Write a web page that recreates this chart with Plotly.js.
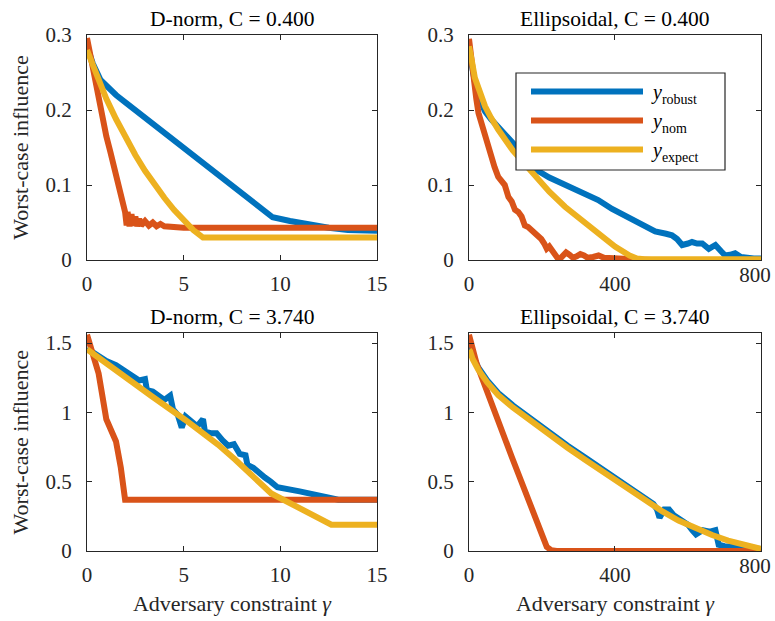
<!DOCTYPE html>
<html><head><meta charset="utf-8">
<script src="https://cdn.plot.ly/plotly-3.0.1.min.js"></script>
<style>
html,body{margin:0;padding:0;background:#fff}
#chart{width:775px;height:621px}
</style>
</head><body><div id="chart"></div>
<script>
// ---- labels ----
const seriesNames = ['\u00a0<i>y</i><sub>robust</sub>', '\u00a0<i>y</i><sub>nom</sub>', '\u00a0<i>y</i><sub>expect</sub>'];
const panelTitles = ['D-norm, C = 0.400', 'Ellipsoidal, C = 0.400', 'D-norm, C = 3.740', 'Ellipsoidal, C = 3.740'];
const xTitle = 'Adversary constraint <i>γ</i>';
const yTitle = 'Worst-case influence';
const dnormTicks = [0, 5, 10, 15];
const dnormTickText = ['0', '5', '10', '15'];
const ellipTicks = [0, 400, 800];
const ellipTickText = ['0', '400', ''];
const ellipEndTick = [800];
const ellipEndTickText = ['800'];
const topYTicks = [0, 0.1, 0.2, 0.3];
const topYTickText = ['0', '0.1', '0.2', '0.3'];
const bottomYTicks = [0, 0.5, 1, 1.5];
const bottomYTickText = ['0', '0.5', '1', '1.5'];

// ---- D-norm, C = 0.400 ----
const tlRobustX = [0, 0.3, 0.7, 1.2, 1.5, 2, 3, 4, 5, 6, 7, 8, 9, 9.6, 10.5, 11.5, 12.5, 13.5, 15];
const tlRobustY = [0.285, 0.262, 0.24, 0.226, 0.22, 0.21, 0.19, 0.17, 0.149, 0.129, 0.109, 0.089, 0.069, 0.057, 0.052, 0.047, 0.043, 0.04, 0.039];
const tlNomX = [0, 0.2, 0.41, 0.6, 0.84, 1.0, 1.2, 1.36, 1.5, 1.71, 1.85, 1.97, 2.05, 2.1, 2.2, 2.3, 2.4, 2.5, 2.6, 2.7, 2.8, 3.0, 3.2, 3.4, 3.6, 3.8, 4.0, 4.5, 5, 15];
const tlNomY = [0.296, 0.27, 0.24, 0.21, 0.182, 0.165, 0.145, 0.129, 0.118, 0.098, 0.08, 0.064, 0.046, 0.064, 0.045, 0.061, 0.046, 0.058, 0.045, 0.055, 0.046, 0.052, 0.046, 0.05, 0.045, 0.048, 0.045, 0.044, 0.043, 0.043];
const tlExpX = [0, 0.5, 1, 1.5, 2, 2.5, 3, 3.5, 4, 4.5, 5, 5.5, 6, 15];
const tlExpY = [0.28, 0.245, 0.215, 0.188, 0.163, 0.14, 0.119, 0.1, 0.083, 0.067, 0.053, 0.04, 0.03, 0.03];

// ---- Ellipsoidal, C = 0.400 ----
const trRobustX = [0, 8, 16, 26, 44, 60, 80, 100, 126, 150, 185, 220, 263, 310, 354, 392, 414, 450, 483, 510, 540, 556, 570, 584, 600, 611, 625, 639, 657, 675, 690, 702, 715, 729, 745, 757, 780, 800];
const trRobustY = [0.28, 0.255, 0.238, 0.218, 0.198, 0.188, 0.178, 0.167, 0.153, 0.14, 0.12, 0.11, 0.1, 0.09, 0.08, 0.068, 0.062, 0.053, 0.045, 0.038, 0.035, 0.033, 0.028, 0.02, 0.022, 0.024, 0.022, 0.022, 0.015, 0.02, 0.012, 0.006, 0.007, 0.009, 0.004, 0.003, 0.002, 0.002];
const trNomX = [0, 5, 12, 20, 26, 35, 44, 53, 62, 70, 80, 90, 98, 108, 117, 126, 135, 144, 153, 162, 172, 180, 190, 198, 206, 213, 220, 228, 235, 242, 250, 258, 266, 275, 285, 295, 305, 315, 325, 340, 355, 370, 390, 420, 450, 500, 800];
const trNomY = [0.295, 0.27, 0.24, 0.215, 0.196, 0.18, 0.164, 0.15, 0.138, 0.124, 0.111, 0.103, 0.1, 0.084, 0.078, 0.067, 0.064, 0.058, 0.046, 0.044, 0.04, 0.036, 0.033, 0.028, 0.022, 0.015, 0.018, 0.012, 0.008, 0.003, 0.002, 0.006, 0.01, 0.007, 0.003, 0.005, 0.008, 0.006, 0.003, 0.004, 0.006, 0.003, 0.002, 0.002, 0.001, 0, 0];
const trExpX = [0, 3, 8, 16, 30, 44, 60, 80, 120, 172, 220, 263, 310, 354, 400, 440, 460, 480, 800];
const trExpY = [0.285, 0.28, 0.265, 0.243, 0.222, 0.205, 0.19, 0.174, 0.146, 0.116, 0.091, 0.071, 0.052, 0.035, 0.018, 0.006, 0.002, 0.001, 0.001];

// ---- D-norm, C = 3.740 ----
const blRobustX = [0, 0.5, 1.0, 1.5, 2.0, 2.3, 2.7, 3.0, 3.1, 3.4, 3.7, 4.0, 4.3, 4.45, 4.7, 4.9, 5.1, 5.4, 5.7, 6.0, 6.1, 6.4, 6.7, 7.0, 7.3, 7.6, 7.9, 8.2, 8.3, 8.6, 8.9, 9.2, 9.5, 9.85, 11, 12.5, 13, 15];
const blRobustY = [1.46, 1.41, 1.37, 1.34, 1.29, 1.27, 1.23, 1.24, 1.16, 1.15, 1.12, 1.09, 1.12, 1.02, 0.98, 0.89, 0.97, 0.94, 0.9, 0.95, 0.86, 0.85, 0.85, 0.8, 0.76, 0.77, 0.7, 0.69, 0.62, 0.6, 0.56, 0.53, 0.5, 0.46, 0.43, 0.39, 0.37, 0.37];
const blNomX = [0, 0.6, 1.0, 1.5, 1.75, 1.97, 15];
const blNomY = [1.56, 1.28, 0.95, 0.79, 0.6, 0.37, 0.37];
const blExpX = [0, 1.62, 3.35, 5.07, 6.79, 7.66, 9.53, 12.64, 15];
const blExpY = [1.455, 1.285, 1.116, 0.947, 0.766, 0.66, 0.415, 0.19, 0.19];

// ---- Ellipsoidal, C = 3.740 ----
const brRobustX = [0, 3, 10, 25, 50, 80, 120, 170, 220, 270, 320, 370, 414, 450, 483, 505, 515, 522, 535, 548, 560, 580, 600, 612, 622, 640, 660, 675, 684, 700, 740, 770, 800];
const brRobustY = [1.47, 1.455, 1.4, 1.325, 1.23, 1.14, 1.05, 0.95, 0.855, 0.76, 0.67, 0.58, 0.5, 0.435, 0.375, 0.34, 0.3, 0.24, 0.3, 0.3, 0.26, 0.23, 0.19, 0.15, 0.12, 0.15, 0.14, 0.15, 0.045, 0.035, 0.03, 0.025, 0.015];
const brNomX = [0, 8, 21, 117, 213, 225, 240, 800];
const brNomY = [1.56, 1.47, 1.35, 0.68, 0.03, 0.006, 0, 0];
const brExpX = [0, 3, 10, 25, 50, 80, 120, 170, 220, 270, 320, 370, 414, 450, 483, 530, 574, 620, 666, 710, 757, 800];
const brExpY = [1.45, 1.44, 1.385, 1.31, 1.215, 1.125, 1.035, 0.935, 0.84, 0.745, 0.655, 0.565, 0.485, 0.42, 0.36, 0.285, 0.22, 0.165, 0.115, 0.075, 0.042, 0.015];

const colors = ['#0072BD', '#D95319', '#EDB120'];
const FONT = 'Liberation Serif';
const INK = '#262626';

const panels = [
  {xa: 'x', ya: 'y', data: [[tlRobustX, tlRobustY], [tlNomX, tlNomY], [tlExpX, tlExpY]]},
  {xa: 'x2', ya: 'y2', data: [[trRobustX, trRobustY], [trNomX, trNomY], [trExpX, trExpY]]},
  {xa: 'x3', ya: 'y3', data: [[blRobustX, blRobustY], [blNomX, blNomY], [blExpX, blExpY]]},
  {xa: 'x4', ya: 'y4', data: [[brRobustX, brRobustY], [brNomX, brNomY], [brExpX, brExpY]]}
];

const traces = [];
panels.forEach((p, pi) => {
  p.data.forEach((d, si) => {
    traces.push({
      x: d[0], y: d[1], xaxis: p.xa, yaxis: p.ya, type: 'scatter', mode: 'lines',
      name: seriesNames[si],
      showlegend: pi === 1,
      line: {color: colors[si], width: 6, shape: 'linear'}
    });
  });
});
// empty carriers for the end-tick label axes of the ellipsoidal panels
traces.push({x: [], y: [], xaxis: 'x5', yaxis: 'y2', type: 'scatter', mode: 'lines', showlegend: false, hoverinfo: 'skip'});
traces.push({x: [], y: [], xaxis: 'x6', yaxis: 'y4', type: 'scatter', mode: 'lines', showlegend: false, hoverinfo: 'skip'});

function baseAxis(domain, anchor, range, ticks, text) {
  return {
    domain: domain, anchor: anchor, range: range, tickvals: ticks, ticktext: text,
    showline: true, linecolor: INK, linewidth: 1, mirror: 'ticks', ticks: 'inside', ticklen: 5, tickcolor: INK,
    showgrid: false, zeroline: false, tickfont: {family: FONT, size: 21, color: INK},
    ticklabeloverflow: 'allow'
  };
}
function xAxis(domain, anchor, range, ticks, text, withTitle) {
  const a = baseAxis(domain, anchor, range, ticks, text);
  a.ticklabelstandoff = 5;
  if (withTitle) a.title = {text: xTitle, font: {family: FONT, size: 22, color: INK}, standoff: 9};
  return a;
}
function yAxis(domain, anchor, range, ticks, text, withTitle) {
  const a = baseAxis(domain, anchor, range, ticks, text);
  a.ticklabelstandoff = 10;
  if (withTitle) a.title = {text: yTitle, font: {family: FONT, size: 22, color: INK}, standoff: 10};
  return a;
}
function endTickAxis(over, anchor) {
  return {
    overlaying: over, anchor: anchor, side: 'bottom', range: [0, 800],
    tickvals: ellipEndTick, ticktext: ellipEndTickText, ticks: '', showline: false, showgrid: false, zeroline: false,
    tickfont: {family: FONT, size: 21, color: INK}, ticklabelstandoff: 0, ticklabelshift: -6, ticklabeloverflow: 'allow'
  };
}

const xL = [0.11226, 0.48645], xR = [0.60516, 0.98194];
const yT = [0.5813, 0.9436], yB = [0.1127, 0.4633];

const annotations = [
  {text: panelTitles[0], x: (xL[0] + xL[1]) / 2, y: yT[1]},
  {text: panelTitles[1], x: (xR[0] + xR[1]) / 2, y: yT[1]},
  {text: panelTitles[2], x: (xL[0] + xL[1]) / 2, y: yB[1]},
  {text: panelTitles[3], x: (xR[0] + xR[1]) / 2, y: yB[1]}
].map(a => Object.assign(a, {xref: 'paper', yref: 'paper', xanchor: 'center', yanchor: 'bottom', yshift: 2,
  showarrow: false, font: {family: FONT, size: 21.5, color: '#000'}}));

// legend frame (px 516..725 x 73..170)
const shapes = [{
  type: 'rect', xref: 'paper', yref: 'paper', layer: 'above',
  x0: 516 / 775, x1: 725 / 775, y0: 1 - 170 / 621, y1: 1 - 73 / 621,
  line: {color: INK, width: 1.2}, fillcolor: '#fff'
}];

const layout = {
  width: 775, height: 621, margin: {l: 0, r: 0, t: 0, b: 0},
  paper_bgcolor: '#fff', plot_bgcolor: '#fff',
  font: {family: FONT, color: INK},
  xaxis: xAxis(xL, 'y', [0, 15], dnormTicks, dnormTickText, false),
  yaxis: yAxis(yT, 'x', [0, 0.3], topYTicks, topYTickText, true),
  xaxis2: xAxis(xR, 'y2', [0, 800], ellipTicks, ellipTickText, false),
  yaxis2: yAxis(yT, 'x2', [0, 0.3], topYTicks, topYTickText, false),
  xaxis3: xAxis(xL, 'y3', [0, 15], dnormTicks, dnormTickText, true),
  yaxis3: yAxis(yB, 'x3', [0, 1.57], bottomYTicks, bottomYTickText, true),
  xaxis4: xAxis(xR, 'y4', [0, 800], ellipTicks, ellipTickText, true),
  yaxis4: yAxis(yB, 'x4', [0, 1.57], bottomYTicks, bottomYTickText, false),
  xaxis5: endTickAxis('x2', 'y2'),
  xaxis6: endTickAxis('x4', 'y4'),
  annotations: annotations,
  shapes: shapes,
  showlegend: true,
  legend: {
    x: 526 / 775, y: 1 - 72 / 621, xanchor: 'left', yanchor: 'top', xref: 'paper', yref: 'paper',
    bgcolor: 'rgba(0,0,0,0)', borderwidth: 0,
    font: {family: FONT, size: 20, color: '#000'},
    itemwidth: 112
  }
};

Plotly.newPlot('chart', traces, layout, {displayModeBar: false, staticPlot: true});
</script></body></html>
